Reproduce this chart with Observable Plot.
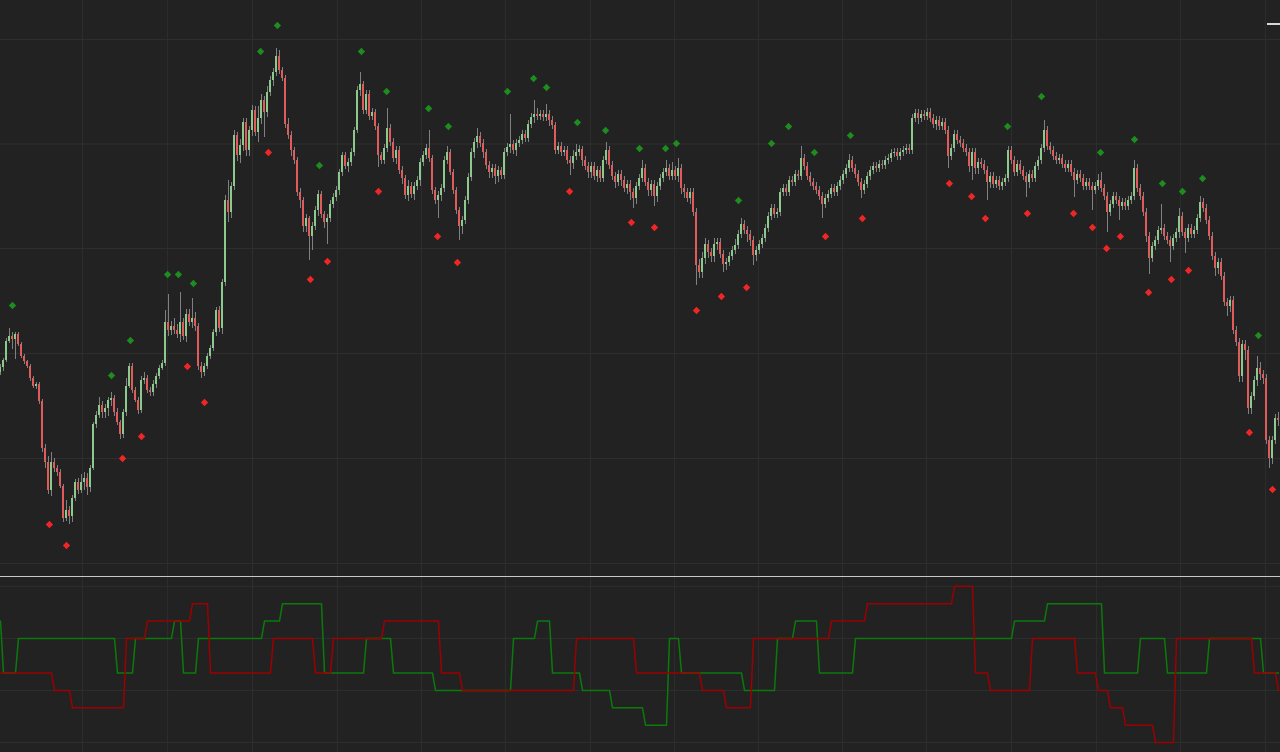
<!DOCTYPE html>
<html><head><meta charset="utf-8">
<script src="https://cdn.jsdelivr.net/npm/d3@7"></script>
<script src="https://cdn.jsdelivr.net/npm/@observablehq/plot@0.6"></script>
<style>
html,body{margin:0;padding:0;background:#222;overflow:hidden}
#wrap{position:relative;width:1280px;height:752px;background:#222}
#top svg,#bottom svg{display:block}
#sep{height:1px;background:#c8c8c8;width:1280px}
#stub{position:absolute;left:1267px;top:23px;width:13px;height:2px;background:#d8d8d8}
</style></head><body>
<div id="wrap"><div id="top"></div><div id="sep"></div><div id="bottom"></div><div id="stub"></div></div>
<script>
// ---- price bars (one per bar index) ----
const open = [
628,633,640,659,664,661,666,656,644,639,
634,622,614,616,599,552,538,510,538,532,
528,514,482,490,484,502,518,510,518,522,
513,532,576,585,595,588,592,600,602,588,
578,566,588,614,634,610,600,590,620,622,
610,608,616,624,632,637,678,670,674,670,
666,678,664,686,678,682,674,634,628,634,
644,652,668,690,672,718,800,788,814,865,
845,855,878,850,870,890,868,882,900,888,
908,920,928,944,930,922,876,865,850,840,
808,800,774,782,764,774,790,806,786,778,
782,796,803,810,828,845,834,838,848,870,
910,916,890,906,884,888,874,845,840,852,
872,858,842,850,830,822,805,814,806,814,
820,838,845,852,842,810,800,805,812,840,
848,828,810,790,774,780,800,823,848,858,
864,857,848,835,828,832,824,830,825,848,
853,856,850,857,860,866,862,876,883,886,
884,886,883,886,880,875,850,854,848,850,
840,837,844,848,851,840,834,828,834,824,
830,822,840,850,835,824,818,826,820,812,
816,808,802,814,822,832,818,810,816,804,
814,822,828,832,824,830,824,832,812,808,
802,808,788,735,728,742,756,748,744,756,
758,746,736,738,744,750,755,766,776,770,
766,760,745,750,756,762,772,784,792,786,
788,808,812,808,820,818,826,824,842,834,
824,818,814,810,804,796,802,806,812,808,
814,820,826,832,840,832,826,818,810,816,
824,830,834,832,836,835,840,842,847,848,
844,848,850,852,850,882,887,882,886,884,
888,882,876,880,874,878,870,844,852,866,
860,857,852,848,834,848,832,838,836,830,
818,824,816,820,814,818,822,850,840,828,
836,830,824,818,826,822,834,840,852,870,
854,850,844,840,842,836,832,836,828,820,
826,822,814,818,814,810,814,820,812,804,
788,796,804,800,794,798,794,800,804,832,
812,804,788,764,742,754,760,770,772,764,
760,754,762,768,784,768,762,772,766,770,
782,798,792,780,764,744,732,738,724,698,
694,700,670,658,624,656,650,592,604,620,
632,626,622,560,542,560,582];
const high = [
636,642,662,672,668,668,668,658,646,640,
636,624,618,618,601,556,544,548,542,535,
531,516,500,494,505,521,522,526,528,527,
535,578,589,603,599,596,603,608,605,592,
580,591,622,637,637,613,603,624,628,625,
613,620,627,635,640,690,706,679,682,676,
708,682,691,691,702,688,677,638,637,647,
655,671,693,694,721,805,820,818,870,868,
861,882,882,874,895,894,894,906,904,914,
924,932,952,950,933,925,882,869,853,843,
812,803,786,784,778,794,810,809,789,786,
800,807,814,831,848,848,842,852,873,914,
928,919,910,910,892,891,877,848,856,892,
876,862,854,854,834,825,820,818,818,824,
842,849,856,870,845,813,809,816,844,854,
851,831,813,793,784,804,827,852,862,872,
868,861,851,839,836,836,834,833,852,857,
886,860,861,864,870,870,880,887,900,892,
890,890,896,890,884,878,858,858,854,854,
844,850,856,855,854,844,838,838,838,834,
834,844,858,854,839,828,830,830,824,820,
820,812,818,826,840,836,822,820,820,818,
826,832,840,836,838,834,842,836,816,812,
812,812,792,741,748,762,760,752,762,762,
762,750,742,748,754,761,770,782,780,774,
770,764,754,760,766,776,788,796,796,792,
812,816,816,824,824,830,830,854,846,838,
828,822,818,814,808,806,810,816,816,818,
824,830,836,846,844,836,830,822,820,828,
834,838,838,840,840,844,846,851,852,852,
852,854,856,856,886,891,891,890,890,892,
892,886,884,884,882,882,874,856,870,870,
864,861,856,852,852,852,842,842,840,834,
828,828,824,824,822,826,854,854,844,840,
840,834,828,830,830,838,844,856,880,874,
858,854,848,846,846,840,840,840,832,830,
830,826,822,822,818,818,826,828,816,808,
800,808,808,804,802,802,804,808,840,836,
816,808,792,768,758,764,774,796,776,768,
764,766,772,792,788,772,776,776,774,786,
804,802,796,784,768,748,742,742,728,702,
704,704,674,662,660,660,654,608,624,644,
638,630,626,564,564,586,588];
const low = [
625,629,638,657,651,641,654,642,636,632,
619,612,611,596,548,532,506,504,528,524,
512,478,479,476,478,499,506,507,510,505,
508,530,572,582,582,582,584,594,584,575,
561,562,584,612,607,598,586,587,616,607,
604,604,612,621,630,634,664,665,666,662,
658,660,658,674,672,669,630,622,624,631,
641,649,664,668,666,714,778,782,810,839,
837,849,844,844,864,864,858,876,863,883,
904,914,924,926,919,872,861,844,836,804,
792,768,768,740,750,770,784,782,772,756,
778,792,799,805,824,831,828,834,844,867,
904,886,886,880,880,870,833,836,836,848,
854,838,836,826,816,801,799,802,800,810,
814,834,841,838,806,796,782,799,808,836,
825,806,786,760,766,776,796,819,842,852,
853,842,831,822,822,816,818,821,821,844,
847,846,844,853,856,858,858,872,877,880,
880,879,879,874,871,846,846,844,844,836,
825,831,840,844,834,830,822,822,820,818,
818,818,836,831,820,812,814,814,808,806,
800,792,796,810,818,814,804,804,794,798,
810,818,824,820,820,820,818,806,802,798,
796,784,715,722,722,736,742,738,738,750,
742,728,730,734,740,746,751,762,766,758,
754,735,739,746,752,758,768,780,782,782,
784,804,804,804,814,814,820,820,830,820,
814,810,806,800,782,792,798,802,804,804,
810,816,822,828,828,822,814,802,806,812,
820,826,828,828,831,831,836,838,843,840,
840,844,846,846,846,878,876,878,880,880,
878,872,870,870,870,866,832,840,848,856,
853,848,844,828,820,826,826,832,826,800,
812,812,812,810,810,814,818,836,824,824,
826,820,803,812,818,818,830,836,848,850,
846,840,836,836,832,828,828,824,803,816,
818,810,810,810,790,806,810,808,800,768,
784,792,796,780,790,790,790,796,800,808,
800,784,758,726,738,750,756,766,760,756,
738,750,758,762,764,747,758,762,762,766,
778,788,776,760,740,724,726,720,694,684,
688,666,654,618,618,640,586,586,600,614,
620,616,556,532,536,556,574];
const close = [
633,640,659,664,661,666,656,644,639,634,
622,614,616,599,552,538,510,538,532,528,
514,482,490,484,502,518,510,518,522,513,
532,576,585,595,588,592,600,602,588,578,
566,588,614,634,610,600,590,620,622,610,
608,616,624,632,637,678,670,674,670,666,
678,664,686,678,682,674,634,628,634,644,
652,668,690,672,718,800,788,814,865,845,
855,878,850,870,890,868,882,900,888,908,
920,928,944,930,922,876,865,850,840,808,
800,774,782,764,774,790,806,786,778,782,
796,803,810,828,845,834,838,848,870,910,
916,890,906,884,888,874,845,840,852,872,
858,842,850,830,822,805,814,806,814,820,
838,845,852,842,810,800,805,812,840,848,
828,810,790,774,780,800,823,848,858,864,
857,848,835,828,832,824,830,825,848,853,
856,850,857,860,866,862,876,883,886,884,
886,883,886,880,875,850,854,848,850,840,
837,844,848,851,840,834,828,834,824,830,
822,840,850,835,824,818,826,820,812,816,
808,802,814,822,832,818,810,816,804,814,
822,828,832,824,830,824,832,812,808,802,
808,788,735,728,742,756,748,744,756,758,
746,736,738,744,750,755,766,776,770,766,
760,745,750,756,762,772,784,792,786,788,
808,812,808,820,818,826,824,842,834,824,
818,814,810,804,796,802,806,812,808,814,
820,826,832,840,832,826,818,810,816,824,
830,834,832,836,835,840,842,847,848,844,
848,850,852,850,882,887,882,886,884,888,
882,876,880,874,878,870,844,852,866,860,
857,852,848,834,848,832,838,836,830,818,
824,816,820,814,818,822,850,840,828,836,
830,824,818,826,822,834,840,852,870,854,
850,844,840,842,836,832,836,828,820,826,
822,814,818,814,810,814,820,812,804,788,
796,804,800,794,798,794,800,804,832,812,
804,788,764,742,754,760,770,772,764,760,
754,762,768,784,768,762,772,766,770,782,
798,792,780,764,744,732,738,724,698,694,
700,670,658,624,656,650,592,604,620,632,
626,622,560,542,560,582,580];

// ---- fractal markers (bar position, price) ----
const upBar = [4,37,43.3,55.7,59.3,64.3,86.7,92.3,106.3,120.3,128.7,142.7,149.3,169,177.7,182,192.3,201.7,213,221.7,225.3,246,257,262.7,271.3,283.3,335.7,347,366.7,378,387.3,394,400.7,419.3];
const upPrice = [695,625,660,726,726,717,949,975,835,949,909,892,874,909,922,913,878,870,852,852,857,800,857,874,848,865,874,904,848,861,817,809,822,665];
const downBar = [16.3,22,40.7,47,62.3,68,89.3,103.3,109,126,145.7,152.3,189.7,210.3,218,232,240.3,248.7,275,287.3,316.3,323.7,328.3,342.3,357.7,364,368.7,373.3,382.7,390.3,396,416.3,424];
const downPrice = [476,455,542,564,634,598,848,721,739,809,764,738,809,778,773,690,704,713,764,782,817,804,782,787,787,773,752,764,708,721,730,568,511];

// ---- lower pane: level runs [level, number of bars] ----
const greenRuns = [[7,1],[4,5],[6,33],[4,6],[6,13],[7,3],[4,5],[6,22],[7,6],[8,14],[4,14],[6,9],[4,14],[3,26],[6,8],[7,5],[4,10],[3,10],[2,11],[1,8],[6,4],[4,21],[3,11],[6,6],[7,8],[4,12],[6,53],[7,11],[8,19],[4,12],[6,9],[4,14],[6,18],[4,6]];
const redRuns = [[4,18],[3,6],[2,18],[6,7],[7,15],[8,6],[4,21],[6,14],[4,6],[6,17],[7,19],[4,7],[3,38],[6,20],[4,22],[3,8],[2,9],[6,26],[7,12],[8,29],[9,7],[4,5],[3,14],[6,15],[4,7],[3,4],[2,5],[1,10],[0,7],[6,26],[4,8],[3,1]];

// ---- grid tick positions ----
const priceTicks = [961,856.5,752,647,542,437];
const levelTicks = [0,3,6,9];
const barTicks = [27.3,55.7,84,112.3,140.3,168.3,196.7,224.7,252.7,280.7,308.7,337,365.3,393.3,421.7];

// ---- build tables ----
const bars = close.map((c,i)=>({i, o:open[i], h:high[i], l:low[i], c}));
const ups = upBar.map((b,k)=>({b, p:upPrice[k]}));
const downs = downBar.map((b,k)=>({b, p:downPrice[k]}));
function expand(runs){const out=[];let i=0;for(const [v,n] of runs){for(let k=0;k<n;k++){out.push({i,u:v});i++;}}return out;}
const gLine = expand(greenRuns), rLine = expand(redRuns);

const BG="#222222", GRID="#2e2e2e";
const xDom=[0,1280/3];
const topPlot = Plot.plot({
  width:1280, height:576, margin:0,
  style:{background:BG, overflow:"hidden"},
  x:{domain:xDom, axis:null},
  y:{domain:[424,1000], axis:null},
  marks:[
    Plot.ruleY(priceTicks,{stroke:GRID}),
    Plot.ruleX(barTicks,{stroke:GRID}),
    Plot.ruleX(bars,{x:"i", y1:"l", y2:"h", stroke:"#808080", strokeWidth:1}),
    Plot.ruleX(bars.filter(d=>d.c>=d.o),{x:"i", y1:"o", y2:"c", stroke:"#8cc98c", strokeWidth:2, dx:-0.5}),
    Plot.ruleX(bars.filter(d=>d.c<d.o),{x:"i", y1:"o", y2:"c", stroke:"#e05c5c", strokeWidth:2, dx:-0.5}),
    Plot.dot(ups,{x:"b", y:"p", symbol:"diamond2", r:3.3, fill:"#1e8c1e", stroke:"none"}),
    Plot.dot(downs,{x:"b", y:"p", symbol:"diamond2", r:3.3, fill:"#f02626", stroke:"none"})
  ]
});
document.getElementById("top").appendChild(topPlot);

const botPlot = Plot.plot({
  width:1280, height:175, margin:0,
  style:{background:BG, overflow:"hidden"},
  x:{domain:xDom, axis:null},
  y:{domain:[-0.576,9.51], axis:null},
  marks:[
    Plot.ruleY(levelTicks,{stroke:GRID}),
    Plot.ruleX(barTicks,{stroke:GRID}),
    Plot.line(gLine,{x:"i", y:"u", stroke:"#0b7a0b", strokeWidth:1.5}),
    Plot.line(rLine,{x:"i", y:"u", stroke:"#9c0000", strokeWidth:1.5})
  ]
});
document.getElementById("bottom").appendChild(botPlot);
</script>
</body></html>
